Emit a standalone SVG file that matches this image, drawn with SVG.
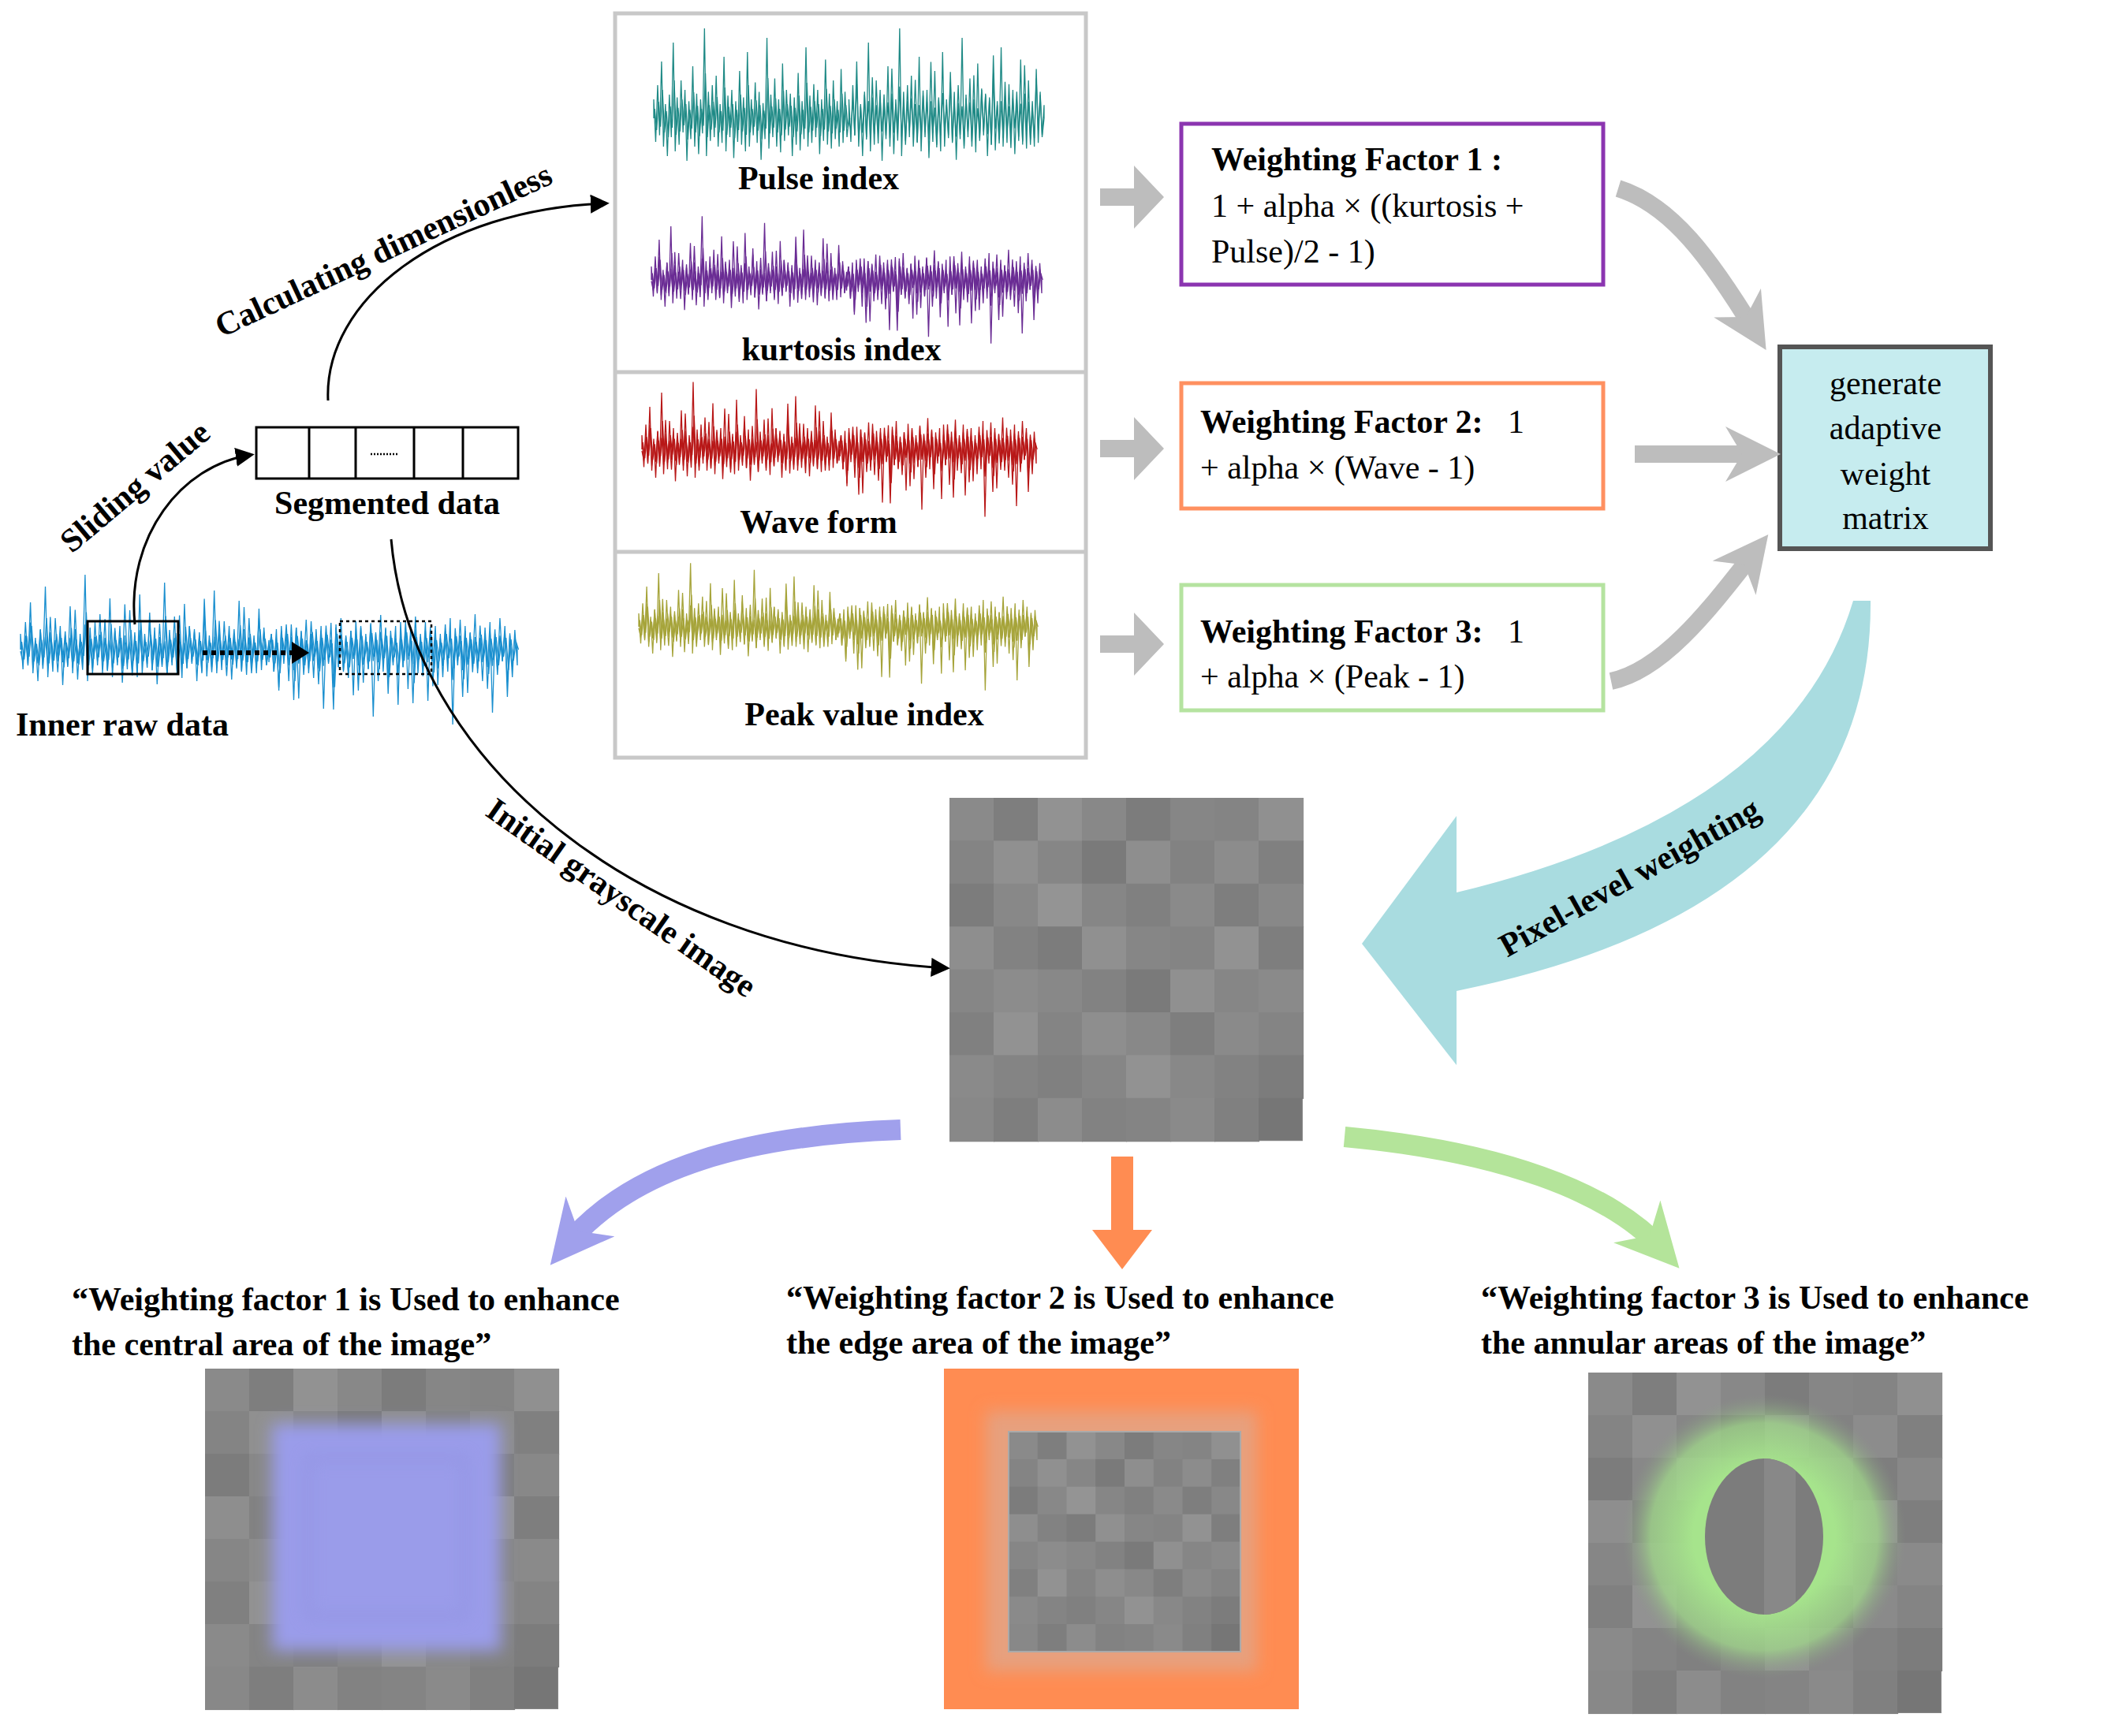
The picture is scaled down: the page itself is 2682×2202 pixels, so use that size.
<svg xmlns="http://www.w3.org/2000/svg" xmlns:xlink="http://www.w3.org/1999/xlink" width="2682" height="2202" viewBox="0 0 2682 2202">
<style>
.b{font-family:"Liberation Serif","Times New Roman","DejaVu Serif",serif;font-weight:bold;font-size:42px;fill:#000}
.n{font-family:"Liberation Serif","Times New Roman","DejaVu Serif",serif;font-size:42px;fill:#000}
.c{stroke:#000;stroke-width:3;fill:none}
.g{stroke:#bdbdbd;stroke-width:22;fill:none}
#w{vector-effect:non-scaling-stroke}
</style>
<defs>
<marker id="ah" viewBox="0 0 10 10" refX="8" refY="5" markerWidth="24" markerHeight="24" markerUnits="userSpaceOnUse" orient="auto"><path d="M0,0 L10,5 L0,10 Z" fill="#000"/></marker>
<marker id="gh" viewBox="0 0 10 10" refX="6" refY="5" markerWidth="70" markerHeight="70" markerUnits="userSpaceOnUse" orient="auto"><path d="M0,0 L10,5 L0,10 L3,5 Z" fill="#bdbdbd"/></marker>
<marker id="ph" viewBox="0 0 10 10" refX="6" refY="5" markerWidth="80" markerHeight="80" markerUnits="userSpaceOnUse" orient="auto"><path d="M0,0 L10,5 L0,10 L3,5 Z" fill="#a0a0ec"/></marker>
<marker id="lh" viewBox="0 0 10 10" refX="6" refY="5" markerWidth="80" markerHeight="80" markerUnits="userSpaceOnUse" orient="auto"><path d="M0,0 L10,5 L0,10 L3,5 Z" fill="#b4e49a"/></marker>
<path id="w" fill="none" stroke-width="1.3" d="M0,0 L0,-20 L5,25 L10,-35 L15,18 L20,-60 L25,30 L30,-15 L35,40 L40,-25 L45,20 L50,-80 L55,35 L60,-22 L65,28 L70,-40 L75,15 L80,-30 L85,45 L90,-18 L95,22 L100,-55 L105,30 L110,-26 L115,38 L120,-20 L125,16 L130,-95 L135,40 L140,-28 L145,24 L150,-35 L155,20 L160,-45 L165,30 L170,-15 L175,26 L180,-65 L185,35 L190,-24 L195,20 L200,-30 L205,42 L210,-18 L215,25 L220,-50 L225,28 L230,-22 L235,35 L240,-70 L245,30 L250,-20 L255,18 L260,-38 L265,26 L270,-28 L275,44 L280,-16 L285,22 L290,-85 L295,32 L300,-25 L305,20 L310,-42 L315,30 L320,-20 L325,36 L330,-58 L335,24 L340,-30 L345,18 L350,-26 L355,40 L360,-22 L365,28 L370,-48 L375,34 L380,-18 L385,22 L390,-75 L395,30 L400,-24 L405,26 L410,-36 L415,20 L420,-30 L425,38 L430,-20 L435,24 L440,-62 L445,28 L450,-26 L455,32 L460,-40 L465,22 L470,-18 L475,30 L480,-52 L485,26 L490,-28 L495,20 L500,0"/>
<g id="wave">
<use xlink:href="#w" transform="scale(0.5,1)"/>
<use xlink:href="#w" transform="translate(250,0) scale(0.5,-0.8)"/>
<use xlink:href="#w" transform="translate(250,2) scale(-0.5,0.7)"/>
<use xlink:href="#w" transform="translate(500,0) scale(-0.5,-1)"/>
<use xlink:href="#w" transform="translate(1.2,0) scale(0.5,0.5)"/>
<use xlink:href="#w" transform="translate(251.2,0) scale(0.5,-0.5)"/>
</g>
<g id="upwave">
<use xlink:href="#w" transform="scale(0.5,1)"/>
<use xlink:href="#w" transform="translate(250,0) scale(0.5,1)"/>
<use xlink:href="#w" transform="translate(500,0) scale(-0.5,0.7)"/>
<use xlink:href="#w" transform="translate(1.2,0) scale(0.5,0.5)"/>
</g>
<g id="mosaic">
<rect x="0" y="0" width="8" height="8" fill="#868686"/>
<rect x="0" y="0" width="1.02" height="1.02" fill="#8a8a8a"/><rect x="1" y="0" width="1.02" height="1.02" fill="#7e7e7e"/><rect x="2" y="0" width="1.02" height="1.02" fill="#929292"/><rect x="3" y="0" width="1.02" height="1.02" fill="#888"/><rect x="4" y="0" width="1.02" height="1.02" fill="#7c7c7c"/><rect x="5" y="0" width="1.02" height="1.02" fill="#868686"/><rect x="6" y="0" width="1.02" height="1.02" fill="#848484"/><rect x="7" y="0" width="1.02" height="1.02" fill="#909090"/>
<rect x="0" y="1" width="1.02" height="1.02" fill="#848484"/><rect x="1" y="1" width="1.02" height="1.02" fill="#909090"/><rect x="2" y="1" width="1.02" height="1.02" fill="#868686"/><rect x="3" y="1" width="1.02" height="1.02" fill="#7a7a7a"/><rect x="4" y="1" width="1.02" height="1.02" fill="#8e8e8e"/><rect x="5" y="1" width="1.02" height="1.02" fill="#828282"/><rect x="6" y="1" width="1.02" height="1.02" fill="#8c8c8c"/><rect x="7" y="1" width="1.02" height="1.02" fill="#808080"/>
<rect x="0" y="2" width="1.02" height="1.02" fill="#7c7c7c"/><rect x="1" y="2" width="1.02" height="1.02" fill="#888"/><rect x="2" y="2" width="1.02" height="1.02" fill="#949494"/><rect x="3" y="2" width="1.02" height="1.02" fill="#868686"/><rect x="4" y="2" width="1.02" height="1.02" fill="#808080"/><rect x="5" y="2" width="1.02" height="1.02" fill="#8a8a8a"/><rect x="6" y="2" width="1.02" height="1.02" fill="#7e7e7e"/><rect x="7" y="2" width="1.02" height="1.02" fill="#888"/>
<rect x="0" y="3" width="1.02" height="1.02" fill="#8e8e8e"/><rect x="1" y="3" width="1.02" height="1.02" fill="#828282"/><rect x="2" y="3" width="1.02" height="1.02" fill="#7c7c7c"/><rect x="3" y="3" width="1.02" height="1.02" fill="#909090"/><rect x="4" y="3" width="1.02" height="1.02" fill="#868686"/><rect x="5" y="3" width="1.02" height="1.02" fill="#848484"/><rect x="6" y="3" width="1.02" height="1.02" fill="#929292"/><rect x="7" y="3" width="1.02" height="1.02" fill="#7e7e7e"/>
<rect x="0" y="4" width="1.02" height="1.02" fill="#868686"/><rect x="1" y="4" width="1.02" height="1.02" fill="#8c8c8c"/><rect x="2" y="4" width="1.02" height="1.02" fill="#888"/><rect x="3" y="4" width="1.02" height="1.02" fill="#828282"/><rect x="4" y="4" width="1.02" height="1.02" fill="#7a7a7a"/><rect x="5" y="4" width="1.02" height="1.02" fill="#909090"/><rect x="6" y="4" width="1.02" height="1.02" fill="#868686"/><rect x="7" y="4" width="1.02" height="1.02" fill="#8a8a8a"/>
<rect x="0" y="5" width="1.02" height="1.02" fill="#808080"/><rect x="1" y="5" width="1.02" height="1.02" fill="#929292"/><rect x="2" y="5" width="1.02" height="1.02" fill="#848484"/><rect x="3" y="5" width="1.02" height="1.02" fill="#8e8e8e"/><rect x="4" y="5" width="1.02" height="1.02" fill="#888"/><rect x="5" y="5" width="1.02" height="1.02" fill="#7e7e7e"/><rect x="6" y="5" width="1.02" height="1.02" fill="#8a8a8a"/><rect x="7" y="5" width="1.02" height="1.02" fill="#848484"/>
<rect x="0" y="6" width="1.02" height="1.02" fill="#8a8a8a"/><rect x="1" y="6" width="1.02" height="1.02" fill="#848484"/><rect x="2" y="6" width="1.02" height="1.02" fill="#808080"/><rect x="3" y="6" width="1.02" height="1.02" fill="#868686"/><rect x="4" y="6" width="1.02" height="1.02" fill="#929292"/><rect x="5" y="6" width="1.02" height="1.02" fill="#888"/><rect x="6" y="6" width="1.02" height="1.02" fill="#828282"/><rect x="7" y="6" width="1.02" height="1.02" fill="#7c7c7c"/>
<rect x="0" y="7" width="1.02" height="1.02" fill="#888"/><rect x="1" y="7" width="1.02" height="1.02" fill="#7e7e7e"/><rect x="2" y="7" width="1.02" height="1.02" fill="#8c8c8c"/><rect x="3" y="7" width="1.02" height="1.02" fill="#828282"/><rect x="4" y="7" width="1.02" height="1.02" fill="#848484"/><rect x="5" y="7" width="1.02" height="1.02" fill="#8a8a8a"/><rect x="6" y="7" width="1.02" height="1.02" fill="#808080"/><rect x="7" y="7" width="0.98" height="0.98" fill="#767676"/>
</g>
<filter id="bl" x="-30%" y="-30%" width="160%" height="160%"><feGaussianBlur stdDeviation="10"/></filter>
<radialGradient id="rg" cx="0.5" cy="0.5" r="0.5"><stop offset="0.5" stop-color="#a6e48c" stop-opacity="1"/><stop offset="0.8" stop-color="#a0d88a" stop-opacity="0.75"/><stop offset="1" stop-color="#8a9a86" stop-opacity="0"/></radialGradient>
<clipPath id="ci"><ellipse cx="2237" cy="1949" rx="75" ry="99"/></clipPath>
</defs>

<g id="raw-data">
<g stroke="#1a8fcf"><use xlink:href="#wave" transform="translate(26,824) scale(1.26,1.0)"/></g>
<rect x="111" y="788" width="115" height="67" fill="none" stroke="#000" stroke-width="3"/>
<rect x="431" y="788" width="116" height="67" fill="none" stroke="#000" stroke-width="2.5" stroke-dasharray="4,4"/>
<line x1="257" y1="828" x2="372" y2="828" stroke="#000" stroke-width="6" stroke-dasharray="6,5"/>
<path d="M370,814 L392,828 L370,842 Z" fill="#000"/>
<text class="b" x="20" y="933">Inner raw data</text>
</g>

<g id="segmented">
<rect x="325" y="542" width="332" height="65" fill="#fff" stroke="#000" stroke-width="3"/>
<path d="M392,542 V607 M451,542 V607 M525,542 V607 M587,542 V607" stroke="#000" stroke-width="3"/>
<line x1="470" y1="576" x2="506" y2="576" stroke="#000" stroke-width="2.5" stroke-dasharray="2,2"/>
<text class="b" x="491" y="652" text-anchor="middle">Segmented data</text>
</g>

<g id="indices">
<rect x="780" y="17" width="597" height="944" fill="#fff" stroke="#c8c8c8" stroke-width="5"/>
<path d="M780,472 H1377 M780,700 H1377" stroke="#c8c8c8" stroke-width="5"/>
<g stroke="#1f8a86"><use xlink:href="#upwave" transform="translate(829,150) scale(0.99,1.2)"/></g>
<text class="b" x="1038" y="240" text-anchor="middle">Pulse index</text>
<g stroke="#6a2c94"><use xlink:href="#wave" transform="translate(826,355) scale(0.99,0.85)"/></g>
<text class="b" x="1067" y="457" text-anchor="middle">kurtosis index</text>
<g stroke="#b81818"><use xlink:href="#wave" transform="translate(814,570) scale(1.0,0.9)"/></g>
<text class="b" x="1038" y="676" text-anchor="middle">Wave form</text>
<g stroke="#a6a43a"><use xlink:href="#wave" transform="translate(810,795) scale(1.01,0.85)"/></g>
<text class="b" x="1096" y="920" text-anchor="middle">Peak value index</text>
</g>

<g id="small-arrows" fill="#bdbdbd">
<path d="M1395,239 H1438 V210 L1476,250 L1438,290 V261 H1395 Z"/>
<path d="M1395,558 H1438 V529 L1476,569 L1438,609 V580 H1395 Z"/>
<path d="M1395,806 H1438 V777 L1476,817 L1438,857 V828 H1395 Z"/>
</g>

<g id="wf1">
<rect x="1498" y="157" width="535" height="204" fill="#fff" stroke="#8b35b0" stroke-width="5"/>
<text class="b" x="1536" y="216">Weighting Factor 1 :</text>
<text class="n" x="1536" y="275">1 + alpha × ((kurtosis +</text>
<text class="n" x="1536" y="333">Pulse)/2 - 1)</text>
</g>
<g id="wf2">
<rect x="1498" y="486" width="535" height="159" fill="#fff" stroke="#ff9060" stroke-width="5"/>
<text class="b" x="1522" y="549">Weighting Factor 2:<tspan font-weight="normal" xml:space="preserve">   1</tspan></text>
<text class="n" x="1522" y="607">+ alpha × (Wave - 1)</text>
</g>
<g id="wf3">
<rect x="1498" y="742" width="535" height="159" fill="#fff" stroke="#b5e3a0" stroke-width="5"/>
<text class="b" x="1522" y="815">Weighting Factor 3:<tspan font-weight="normal" xml:space="preserve">   1</tspan></text>
<text class="n" x="1522" y="872">+ alpha × (Peak - 1)</text>
</g>

<g id="matrix">
<rect x="2257" y="440" width="267" height="256" fill="#c6ecef" stroke="#555" stroke-width="6"/>
<text class="n" x="2391" y="500" text-anchor="middle">generate</text>
<text class="n" x="2391" y="557" text-anchor="middle">adaptive</text>
<text class="n" x="2391" y="615" text-anchor="middle">weight</text>
<text class="n" x="2391" y="671" text-anchor="middle">matrix</text>
</g>

<g id="gray-image"><use xlink:href="#mosaic" transform="translate(1204,1012) scale(56,54.4)"/></g>

<g id="image1">
<use xlink:href="#mosaic" transform="translate(260,1736) scale(56,54)"/>
<rect x="345" y="1806" width="290" height="288" fill="#9a9cea" filter="url(#bl)"/>
<rect x="390" y="1850" width="200" height="200" fill="none" stroke="#8a8cd8" stroke-width="6" filter="url(#bl)" opacity="0.6"/>
</g>
<g id="image2">
<rect x="1197" y="1736" width="450" height="432" fill="#ff8c52"/>
<rect x="1250" y="1790" width="344" height="330" fill="#e7a07e" filter="url(#bl)"/>
<svg x="1279" y="1816" width="294" height="279" viewBox="0 0 8 8" preserveAspectRatio="none"><use xlink:href="#mosaic"/></svg>
<rect x="1279" y="1816" width="294" height="279" fill="none" stroke="#aaa" stroke-width="2"/>
</g>
<g id="image3">
<use xlink:href="#mosaic" transform="translate(2014,1741) scale(56,54)"/>
<circle cx="2237" cy="1949" r="180" fill="url(#rg)"/>
<ellipse cx="2237" cy="1949" rx="75" ry="99" fill="#7c7c7c"/>
<rect x="2237" y="1850" width="40" height="198" fill="#888" clip-path="url(#ci)"/>
</g>

<g id="cyan-arrow">
<path d="M2350,762 L2372,762 Q2375,1150 1847,1257 L1847,1351 L1727,1197 L1847,1035 L1847,1132 Q2270,1030 2350,762 Z" fill="#a9dce0"/>
<text class="b" transform="translate(2073,1125) rotate(-29)" text-anchor="middle">Pixel-level weighting</text>
</g>

<g id="connectors">
<path class="c" d="M171,792 C160,680 230,590 318,577" marker-end="url(#ah)"/>
<path class="c" d="M416,508 C410,380 560,265 768,258" marker-end="url(#ah)"/>
<path class="c" d="M496,684 C520,960 800,1205 1200,1228" marker-end="url(#ah)"/>
<path class="g" d="M2052,239 C2120,260 2170,330 2225,420" marker-end="url(#gh)"/>
<path class="g" d="M2073,576 H2230" marker-end="url(#gh)"/>
<path class="g" d="M2043,864 C2110,850 2170,770 2225,700" marker-end="url(#gh)"/>
<path d="M1142,1433 C950,1440 800,1480 718,1580" stroke="#a0a0ec" stroke-width="26" fill="none" marker-end="url(#ph)"/>
<path d="M1705,1442 C1900,1460 2040,1510 2108,1585" stroke="#b4e49a" stroke-width="26" fill="none" marker-end="url(#lh)"/>
<path d="M1409,1467 H1437 V1560 H1461 L1423,1610 L1385,1560 H1409 Z" fill="#ff8c52"/>
</g>
<g id="labels">
<text class="b" transform="translate(180,628) rotate(-40)" text-anchor="middle">Sliding value</text>
<text class="b" transform="translate(492,330) rotate(-25)" text-anchor="middle">Calculating dimensionless</text>
<text class="b" transform="translate(780,1150) rotate(35)" text-anchor="middle">Initial grayscale image</text>
<text class="b" x="91" y="1662">“Weighting factor 1 is Used to enhance</text>
<text class="b" x="91" y="1719">the central area of the image”</text>
<text class="b" x="997" y="1660">“Weighting factor 2 is Used to enhance</text>
<text class="b" x="997" y="1717">the edge area of the image”</text>
<text class="b" x="1878" y="1660">“Weighting factor 3 is Used to enhance</text>
<text class="b" x="1878" y="1717">the annular areas of the image”</text>
</g>
</svg>
